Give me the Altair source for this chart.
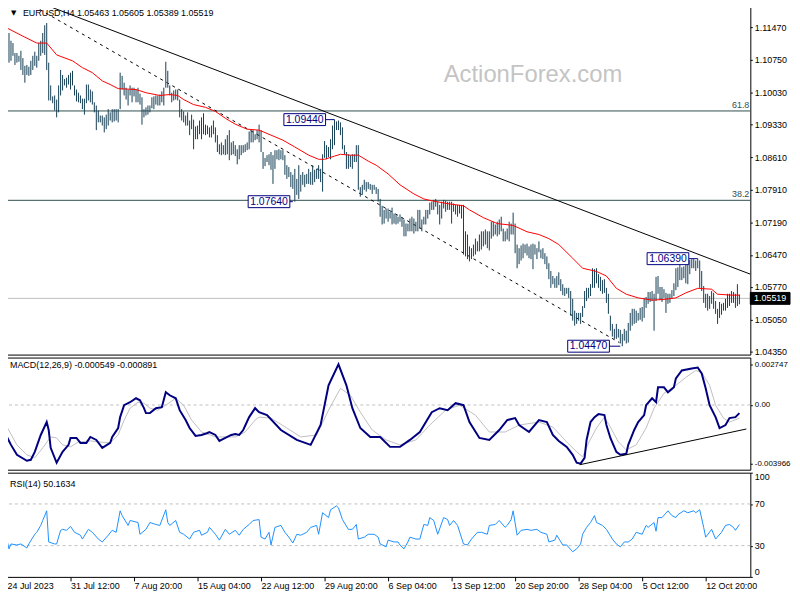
import altair as alt
import pandas as pd

# ---------------- data ----------------
highs = [
    1.1145, 1.1134, 1.1117, 1.1112, 1.1090, 1.1090, 1.1084, 1.1095, 1.1079, 1.1062,
    1.1064, 1.1060, 1.1073, 1.1084, 1.1093, 1.1084, 1.1112, 1.1117, 1.1134, 1.1151,
    1.1156, 1.1069, 1.1019, 1.0995, 1.0997, 1.0988, 1.1019, 1.1053, 1.1042, 1.1033,
    1.1036, 1.1042, 1.1047, 1.1051, 1.1019, 1.1010, 1.1003, 1.0997, 1.0990, 1.0990,
    1.1021, 1.1021, 1.1010, 1.1006, 1.0982, 1.0975, 1.0964, 1.0953, 1.0953, 1.0949,
    1.0955, 1.0967, 1.0960, 1.0967, 1.0967, 1.0967, 1.0967, 1.1047, 1.1040, 1.1025,
    1.1014, 1.1010, 1.1019, 1.1014, 1.1014, 1.1010, 1.1014, 1.1001, 1.0993, 1.0967,
    1.0971, 1.0975, 1.0975, 1.0993, 1.0995, 1.0997, 1.0997, 1.0999, 1.1006, 1.1014,
    1.1071, 1.1051, 1.1019, 1.1003, 1.1008, 1.1010, 1.1010, 1.0988, 1.0967, 1.0962,
    1.0953, 1.0960, 1.0942, 1.0955, 1.0944, 1.0929, 1.0931, 1.0942, 1.0949, 1.0958,
    1.0933, 1.0931, 1.0927, 1.0931, 1.0942, 1.0927, 1.0910, 1.0890, 1.0894, 1.0888,
    1.0901, 1.0910, 1.0921, 1.0894, 1.0897, 1.0888, 1.0879, 1.0888, 1.0888, 1.0888,
    1.0890, 1.0894, 1.0918, 1.0921,
    1.0921, 1.0912, 1.0921, 1.0933, 1.0921, 1.0873, 1.0860, 1.0866, 1.0868, 1.0873,
    1.0866, 1.0877, 1.0877, 1.0879, 1.0877, 1.0877, 1.0866, 1.0844, 1.0840, 1.0829,
    1.0823, 1.0836, 1.0814, 1.0844, 1.0823, 1.0829, 1.0823, 1.0825, 1.0836, 1.0829,
    1.0844, 1.0834, 1.0836, 1.0844, 1.0836, 1.0868, 1.0897, 1.0888, 1.0884, 1.0901,
    1.0931, 1.0944, 1.0940, 1.0942, 1.0938, 1.0927, 1.0888, 1.0873, 1.0868, 1.0866,
    1.0868, 1.0868, 1.0888, 1.0888, 1.0796, 1.0801, 1.0812, 1.0807, 1.0807, 1.0803,
    1.0801, 1.0801, 1.0796, 1.0792, 1.0770, 1.0755, 1.0746, 1.0749, 1.0749, 1.0742,
    1.0751, 1.0738, 1.0736, 1.0731, 1.0736, 1.0729, 1.0725, 1.0716, 1.0716, 1.0727,
    1.0731, 1.0727, 1.0720, 1.0746, 1.0746, 1.0725, 1.0731, 1.0746, 1.0746, 1.0762,
    1.0764, 1.0768, 1.0770, 1.0764, 1.0757, 1.0764, 1.0768, 1.0766, 1.0764, 1.0764,
    1.0764, 1.0760, 1.0757, 1.0757, 1.0757, 1.0757, 1.0757, 1.0699, 1.0692, 1.0666,
    1.0662, 1.0670, 1.0683, 1.0677, 1.0692, 1.0699, 1.0699, 1.0703, 1.0699, 1.0699,
    1.0720, 1.0720, 1.0714, 1.0720, 1.0725, 1.0731,
    1.0705, 1.0699, 1.0705, 1.0720, 1.0716, 1.0740, 1.0716, 1.0670, 1.0662, 1.0668,
    1.0672, 1.0670, 1.0672, 1.0666, 1.0670, 1.0672, 1.0670, 1.0662, 1.0677, 1.0659,
    1.0662, 1.0651, 1.0644, 1.0629, 1.0612, 1.0601, 1.0596, 1.0601, 1.0609, 1.0594,
    1.0583, 1.0575, 1.0575, 1.0575, 1.0568, 1.0551, 1.0525, 1.0520, 1.0520, 1.0520,
    1.0535, 1.0568, 1.0575, 1.0575, 1.0583, 1.0618, 1.0616, 1.0618, 1.0605, 1.0599,
    1.0592, 1.0594, 1.0575, 1.0562, 1.0514, 1.0496, 1.0485, 1.0496, 1.0485, 1.0483,
    1.0474, 1.0485, 1.0481, 1.0498, 1.0520, 1.0529, 1.0529, 1.0525, 1.0520, 1.0531,
    1.0533, 1.0553, 1.0555, 1.0566, 1.0566, 1.0568, 1.0562, 1.0599, 1.0601, 1.0577,
    1.0577, 1.0572, 1.0564, 1.0562, 1.0562, 1.0570, 1.0585, 1.0618, 1.0620, 1.0625,
    1.0620, 1.0622, 1.0627, 1.0633, 1.0636, 1.0638, 1.0638, 1.0635, 1.0639, 1.0635,
    1.0612, 1.0579, 1.0562, 1.0562, 1.0557, 1.0568, 1.0564, 1.0546, 1.0529, 1.0544,
    1.0540, 1.0542, 1.0551, 1.0562, 1.0562, 1.0568, 1.0566, 1.0562, 1.0583, 1.05605,
]
lows = [
    1.1119, 1.1069, 1.1073, 1.1084, 1.1064, 1.1069, 1.1071, 1.1053, 1.1042, 1.1025,
    1.1042, 1.1040, 1.1042, 1.1053, 1.1062, 1.1058, 1.1073, 1.1084, 1.1090, 1.1086,
    1.1053, 1.0986, 1.0986, 1.0980, 1.0964, 1.0949, 1.0960, 1.0997, 1.1008, 1.1019,
    1.1014, 1.1021, 1.1010, 1.1019, 1.0997, 1.0984, 1.0982, 1.0980, 1.0967, 1.0955,
    1.0980, 1.0986, 1.0982, 1.0977, 1.0960, 1.0921, 1.0938, 1.0938, 1.0931, 1.0916,
    1.0923, 1.0931, 1.0942, 1.0938, 1.0940, 1.0942, 1.0938, 1.0967, 1.1010, 1.0997,
    1.0988, 1.0975, 1.0997, 1.0982, 1.0995, 1.0982, 1.0982, 1.0977, 1.0933, 1.0949,
    1.0953, 1.0955, 1.0960, 1.0969, 1.0967, 1.0977, 1.0975, 1.0975, 1.0982, 1.0975,
    1.1014, 1.1014, 1.0997, 1.0982, 1.0986, 1.0988, 1.0986, 1.0949, 1.0942, 1.0938,
    1.0931, 1.0931, 1.0910, 1.0923, 1.0879, 1.0901, 1.0901, 1.0912, 1.0901, 1.0912,
    1.0910, 1.0912, 1.0905, 1.0905, 1.0912, 1.0894, 1.0873, 1.0868, 1.0866, 1.0868,
    1.0866, 1.0868, 1.0855, 1.0866, 1.0868, 1.0864, 1.0846, 1.0857, 1.0866, 1.0871,
    1.0873, 1.0877, 1.0879, 1.0894,
    1.0894, 1.0899, 1.0901, 1.0894, 1.0873, 1.0836, 1.0842, 1.0851, 1.0844, 1.0834,
    1.0803, 1.0836, 1.0857, 1.0855, 1.0857, 1.0855, 1.0823, 1.0814, 1.0818, 1.0796,
    1.0792, 1.0764, 1.0779, 1.0770, 1.0786, 1.0801, 1.0796, 1.0803, 1.0803, 1.0801,
    1.0801, 1.0807, 1.0814, 1.0814, 1.0807, 1.0786, 1.0860, 1.0857, 1.0862, 1.0857,
    1.0879, 1.0888, 1.0921, 1.0921, 1.0910, 1.0879, 1.0868, 1.0836, 1.0836, 1.0840,
    1.0836, 1.0851, 1.0851, 1.0790, 1.0775, 1.0779, 1.0790, 1.0786, 1.0792, 1.0790,
    1.0781, 1.0790, 1.0781, 1.0764, 1.0731, 1.0714, 1.0716, 1.0727, 1.0720, 1.0727,
    1.0714, 1.0716, 1.0714, 1.0716, 1.0720, 1.0709, 1.0688, 1.0688, 1.0699, 1.0699,
    1.0699, 1.0694, 1.0699, 1.0699, 1.0705, 1.0699, 1.0714, 1.0714, 1.0727, 1.0736,
    1.0746, 1.0746, 1.0753, 1.0736, 1.0714, 1.0727, 1.0749, 1.0742, 1.0746, 1.0746,
    1.0716, 1.0742, 1.0736, 1.0731, 1.0738, 1.0727, 1.0648, 1.0644, 1.0638, 1.0633,
    1.0638, 1.0644, 1.0648, 1.0655, 1.0655, 1.0659, 1.0666, 1.0670, 1.0662, 1.0657,
    1.0683, 1.0688, 1.0692, 1.0688, 1.0692, 1.0699,
    1.0677, 1.0677, 1.0681, 1.0677, 1.0692, 1.0692, 1.0651, 1.0618, 1.0627, 1.0635,
    1.0640, 1.0651, 1.0646, 1.0640, 1.0638, 1.0616, 1.0648, 1.0638, 1.0653, 1.0640,
    1.0638, 1.0627, 1.0616, 1.0594, 1.0575, 1.0583, 1.0575, 1.0575, 1.0581, 1.0568,
    1.0559, 1.0557, 1.0562, 1.0553, 1.0514, 1.0503, 1.0492, 1.0496, 1.0503, 1.0496,
    1.0511, 1.0531, 1.0546, 1.0553, 1.0557, 1.0575, 1.0575, 1.0585, 1.0575, 1.0568,
    1.0562, 1.0564, 1.0542, 1.0518, 1.0481, 1.0468, 1.0463, 1.0463, 1.0466, 1.0453,
    1.0447, 1.0459, 1.0453, 1.0455, 1.0481, 1.0492, 1.0496, 1.0498, 1.0503, 1.0505,
    1.0501, 1.0509, 1.0531, 1.0540, 1.0544, 1.0546, 1.0481, 1.0546, 1.0562, 1.0548,
    1.0544, 1.0553, 1.0520, 1.0540, 1.0542, 1.0551, 1.0557, 1.0570, 1.0577, 1.0592,
    1.0592, 1.0596, 1.0585, 1.0583, 1.0605, 1.0618, 1.0618, 1.0612, 1.0618, 1.0575,
    1.0568, 1.0542, 1.0531, 1.0525, 1.0529, 1.0540, 1.0529, 1.0518, 1.0496, 1.0509,
    1.0516, 1.0525, 1.0525, 1.0531, 1.0535, 1.0542, 1.0542, 1.0531, 1.0535, 1.05389,
]

ma_idx = [0, 8, 15, 20, 25, 33, 38, 43, 48, 52, 56, 65, 70, 77, 82, 86, 89, 94, 100, 105,
          110, 115, 121, 127, 133, 139, 145, 152, 157, 160, 165, 168, 173, 177, 182, 186, 192, 198, 205, 210,
          214, 223, 230, 233, 240, 247, 255, 262, 268, 273, 278, 285, 290, 297, 302, 307, 312, 318, 325, 332,
          337, 342, 348, 355, 358, 365, 369]
ma_val = [1.1145, 1.1127, 1.1112, 1.1112, 1.1086, 1.1073, 1.1058, 1.1047, 1.1029, 1.1021,
          1.1012, 1.1010, 1.1003, 1.0997, 1.0999, 1.0997, 1.0988, 1.0977, 1.0971, 1.0962,
          1.0947, 1.0934, 1.0923, 1.0921, 1.0910, 1.0899, 1.0884, 1.0866, 1.0857, 1.0857,
          1.0864, 1.0868, 1.0866, 1.0866, 1.0853, 1.0844, 1.0825, 1.0801, 1.0781, 1.0770,
          1.0766, 1.0759, 1.0755, 1.0746, 1.0729, 1.0716, 1.0712, 1.0698, 1.0692, 1.0683,
          1.0670, 1.0640, 1.0618, 1.0611, 1.0601, 1.0574, 1.0561, 1.0553, 1.0548, 1.0550,
          1.0553, 1.0564, 1.0574, 1.0572, 1.0561, 1.0559, 1.0559]

macd_idx = [0, 2, 5, 10, 12, 14, 17, 20, 21, 22, 25, 28, 31, 32, 35, 37, 40, 42, 45, 48,
            52, 53, 56, 57, 59, 62, 65, 67, 69, 70, 72, 75, 78, 80, 82, 85, 87, 90, 92, 95,
            98, 101, 102, 105, 107, 110, 113, 115, 117, 119, 122, 125, 127, 131, 138, 146, 153, 158, 162, 167,
            171, 174, 178, 183, 188, 193, 198, 203, 208, 214, 218, 222, 226, 230, 233, 238, 243, 248, 252, 256,
            258, 263, 268, 272, 275, 278, 282, 285, 287, 289, 291, 292, 294, 296, 298, 301, 302, 304, 307, 309,
            312, 313, 316, 318, 321, 322, 325, 327, 328, 331, 333, 336, 337, 340, 345, 348, 350, 352, 354, 357,
            359, 362, 364, 367, 369]
macd_val = [-0.002161, -0.002698, -0.003369, -0.003772, -0.003705, -0.003168, -0.002027, -0.001154, -0.001691, -0.002899,
            -0.003906, -0.003168, -0.002698, -0.002228, -0.002228, -0.002564, -0.002564, -0.002161, -0.002362, -0.002899,
            -0.002564, -0.002161, -0.001557, -0.000819, -0.000013, 0.000188, 0.000456, 0.000322, -0.000215, -0.00055,
            -0.00055, -0.000215, -0.000148, 0.000859, 0.000658, 0.000456, -0.000349, -0.00102, -0.001557, -0.002094,
            -0.002027, -0.001893, -0.001826, -0.002027, -0.00243, -0.002228, -0.002027, -0.00196, -0.002027, -0.001691,
            -0.000819, -0.000215, -0.000483, -0.000685, -0.001691, -0.002362, -0.002698, -0.001356, 0.001329, 0.002747,
            0.001329, -0.000215, -0.001557, -0.002161, -0.002161, -0.002832, -0.002832, -0.002362, -0.001826, -0.000483,
            -0.000215, -0.000349, 0.000121, -0.000013, -0.001154, -0.002228, -0.002362, -0.001691, -0.00102, -0.000886,
            -0.001356, -0.001826, -0.00102, -0.001154, -0.002027, -0.00243, -0.002832, -0.003369, -0.003906, -0.003966,
            -0.00357, -0.002362, -0.001154, -0.000819, -0.000617, -0.000685, -0.001356, -0.002228, -0.003168, -0.003369,
            -0.003302, -0.002698, -0.001691, -0.001154, -0.000685, -0.000013, 0.000456, 0.000188, 0.001195, 0.001195,
            0.000859, 0.001195, 0.001799, 0.002336, 0.00247, 0.002537, 0.002134, 0.001128, -0.000013, -0.000819,
            -0.001557, -0.001356, -0.000886, -0.000819, -0.000549]

sig_idx = [0, 5, 10, 14, 18, 22, 25, 28, 32, 36, 42, 46, 52, 56, 59, 62, 66, 69, 72, 76,
           80, 85, 89, 93, 98, 105, 110, 115, 120, 125, 127, 133, 141, 148, 156, 162, 168, 173, 178, 184,
           191, 198, 206, 213, 221, 228, 236, 243, 251, 258, 268, 275, 282, 287, 290, 293, 297, 301, 304, 308,
           312, 317, 322, 326, 331, 337, 342, 347, 350, 354, 357, 361, 364, 369]
sig_val = [-0.00149, -0.002698, -0.003369, -0.00357, -0.002899, -0.002161, -0.002228, -0.002698, -0.002832, -0.002497,
           -0.00243, -0.002497, -0.002564, -0.002027, -0.00102, -0.000215, 0.000188, 0.000121, -0.000215, -0.000349,
           -0.000013, 0.000456, -0.000013, -0.00102, -0.001826, -0.002161, -0.002161, -0.002161, -0.001826, -0.00102,
           -0.000819, -0.000886, -0.001557, -0.002161, -0.002027, -0.000349, 0.001128, 0.000658, -0.000483, -0.001691,
           -0.002362, -0.002698, -0.002362, -0.001356, -0.000349, -0.000013, -0.000685, -0.001826, -0.001826, -0.001356,
           -0.001154, -0.00149, -0.002497, -0.003168, -0.003503, -0.002564, -0.001557, -0.000819, -0.00149, -0.002497,
           -0.003034, -0.002698, -0.001557, -0.000215, 0.000792, 0.001329, 0.001866, 0.002336, 0.002201, 0.001329,
           -0.000013, -0.000886, -0.001154, -0.000891]

rsi_idx = [0, 1, 2, 5, 7, 10, 11, 14, 15, 17, 18, 20, 21, 24, 25, 27, 28, 30, 32, 34,
           37, 38, 41, 43, 46, 48, 51, 53, 55, 57, 58, 61, 62, 66, 67, 70, 72, 75, 77, 80,
           81, 82, 85, 87, 89, 92, 94, 97, 98, 101, 102, 105, 107, 110, 112, 115, 117, 119, 122, 124,
           127, 128, 130, 132, 133, 135, 138, 140, 142, 144, 146, 148, 151, 153, 156, 157, 159, 162, 163, 166,
           167, 169, 172, 174, 176, 177, 180, 182, 185, 187, 188, 191, 192, 195, 197, 198, 200, 202, 203, 206,
           208, 210, 212, 213, 215, 217, 220, 222, 223, 225, 227, 230, 232, 234, 237, 239, 242, 243, 246, 248,
           251, 252, 254, 255, 257, 259, 262, 264, 267, 269, 272, 273, 276, 277, 280, 282, 285, 287, 289, 290,
           292, 294, 296, 297, 300, 302, 305, 307, 309, 311, 313, 315, 317, 320, 322, 323, 326, 327, 328, 330,
           333, 335, 337, 338, 341, 343, 346, 347, 349, 351, 352, 355, 357, 360, 362, 364, 366, 367, 369]
rsi_val = [35.3, 26.9, 31.6, 30.6, 31.6, 27.8, 31.6, 40.9, 42.8, 49.4, 54.1, 63.4, 33.5, 31.6, 31.6, 44.7, 45.6, 44.7, 48.5, 42.8,
           40.0, 36.3, 45.6, 42.8, 36.3, 33.5, 40.0, 44.7, 42.8, 63.4, 58.8, 49.4, 54.1, 52.2, 40.9, 45.6, 52.2, 50.3, 49.4, 64.4,
           52.2, 49.4, 54.1, 42.8, 40.9, 36.3, 42.8, 44.7, 40.0, 42.8, 47.5, 40.9, 35.3, 45.6, 40.9, 44.7, 40.0, 45.6, 50.3, 54.1,
           55.0, 38.1, 36.3, 42.8, 30.6, 47.5, 49.4, 42.8, 38.1, 32.5, 40.9, 40.0, 42.8, 47.5, 49.4, 40.9, 61.6, 56.9, 64.4, 68.1,
           66.3, 55.0, 45.6, 45.6, 50.3, 36.3, 38.1, 40.9, 40.9, 38.1, 31.6, 28.8, 35.3, 33.5, 33.5, 30.6, 26.9, 33.5, 38.1, 36.3,
           36.3, 50.3, 49.4, 56.9, 54.1, 40.9, 56.9, 55.0, 49.4, 54.1, 49.4, 31.6, 30.6, 36.3, 42.8, 42.8, 40.9, 49.4, 50.3, 54.1,
           47.5, 49.4, 55.0, 63.4, 40.0, 44.7, 45.6, 44.7, 45.6, 42.8, 40.9, 33.5, 35.3, 40.0, 30.6, 30.6, 24.1, 26.9, 31.6, 40.9,
           47.5, 52.2, 58.8, 52.2, 49.4, 45.6, 36.3, 31.6, 28.8, 33.5, 33.5, 36.3, 42.8, 40.9, 49.4, 47.5, 52.2, 43.8, 56.9, 56.9,
           63.4, 58.8, 56.9, 59.7, 63.4, 61.6, 63.4, 61.6, 64.4, 47.5, 38.1, 45.6, 36.3, 42.8, 49.4, 50.3, 47.5, 44.7, 50.2]

price_ticks = [1.1147, 1.1075, 1.1003, 1.0933, 1.0861, 1.0791, 1.0719, 1.0647, 1.0577, 1.0505, 1.0435]
macd_ticks = [0.002747, 0.0, -0.003966]
macd_tick_labels = ["0.002747", "0.00", "-0.003966"]
rsi_ticks = [100, 70, 30, 0]
rsi_levels = [70, 30]
time_idx = [0, 32, 64, 96, 128, 160, 192, 224, 256, 288, 320, 352]
time_labels = ["24 Jul 2023", "31 Jul 12:00", "7 Aug 20:00", "15 Aug 04:00", "22 Aug 12:00",
               "29 Aug 20:00", "6 Sep 04:00", "13 Sep 12:00", "20 Sep 20:00", "28 Sep 04:00",
               "5 Oct 12:00", "12 Oct 20:00"]

fib_levels = [1.0963, 1.0767]
fib_labels = ["61.8", "38.2"]
last_price = 1.05519
last_label = "1.05519"

# trendlines: start index, start price, end index, end price
solid_line = [21, 1.1193, 374.5, 1.0605]
dashed_line = [13.5, 1.1193, 308.5, 1.0455]
macd_support = [288.5, -0.00404, 372.5, -0.001624]

ann_values = [1.0944, 1.0764, 1.0447, 1.0639]
ann_labels = ["1.09440", "1.07640", "1.04470", "1.06390"]
ann_bar = [165, 144, 309, 348]
ann_box = [150, 132, 293, 333]

title_main = "EURUSD,H4  1.05463 1.05605 1.05389 1.05519"
title_macd = "MACD(12,26,9) -0.000549 -0.000891"
title_rsi = "RSI(14) 50.1634"
watermark = "ActionForex.com"

# ---------------- styling ----------------
W = 750
H_MAIN, H_MACD, H_RSI = 351, 113, 105
X_DOMAIN = [-0.5, 374.5]
P_DOMAIN = [1.04286, 1.11927]
M_DOMAIN = [-0.004376, 0.003208]
BAR = "#163F55"
LVL = "#2F4F4F"
NAVY = "#000080"
SILVER = "#C0C0C0"
FONT = "Liberation Sans"
FS = 9
BOX_SHAPE = "M-1,-0.286H1V0.286H-1Z"
BOX_W = 42

xs = alt.Scale(domain=X_DOMAIN, nice=False, zero=False)
ps = alt.Scale(domain=P_DOMAIN, nice=False, zero=False)
ms = alt.Scale(domain=M_DOMAIN, nice=False, zero=False)
rs = alt.Scale(domain=[0, 100], nice=False, zero=False)


def chain(vals, labels):
    expr = "''"
    for v, l in reversed(list(zip(vals, labels))):
        expr = f"(datum.value == {v}) ? '{l}' : ({expr})"
    return expr


def yaxis(values, size=FS, **kw):
    return alt.Axis(orient="right", values=values, labelFont=FONT, labelFontSize=size,
                    labelColor="black", tickColor="black", tickSize=2, domain=False,
                    grid=False, title=None, labelPadding=2, labelOverlap=False, **kw)


def text_at(txt, x, y, **kw):
    style = dict(align="left", baseline="middle", font=FONT, fontSize=FS, color="black")
    style.update(kw)
    return alt.Chart(pd.DataFrame({"t": [txt]})).mark_text(**style).encode(
        x=alt.value(x), y=alt.value(y), text="t:N")


PAX = yaxis(price_ticks, format=".5f", labelFlush=False)
MAX = yaxis(macd_ticks, size=8, labelExpr=chain(macd_ticks, macd_tick_labels), labelFlush=False)
RAX = yaxis(rsi_ticks, format="d", labelFlush=True)


def PY(field):
    return alt.Y(field, scale=ps, axis=PAX)


def MY(field):
    return alt.Y(field, scale=ms, axis=MAX)


def RY(field):
    return alt.Y(field, scale=rs, axis=RAX)


def NX(field):
    return alt.X(field, scale=xs, axis=None)


# ---------------- main panel ----------------
bars_df = pd.DataFrame({"i": list(range(len(highs))), "high": highs, "low": lows})
ma_df = pd.DataFrame({"i": ma_idx, "v": ma_val})
fib_df = pd.DataFrame({"level": fib_levels, "label": fib_labels})
tl_df = pd.DataFrame([solid_line + ["solid"], dashed_line + ["dash"]],
                     columns=["x1", "y1", "x2", "y2", "kind"])
ann_df = pd.DataFrame({"value": ann_values, "label": ann_labels, "bar": ann_bar, "box": ann_box})
last_df = pd.DataFrame({"value": [last_price], "label": [last_label]})

wm = alt.Chart(pd.DataFrame({"t": [watermark]})).mark_text(
    font="Liberation Sans", fontSize=24, color="#C4C4C4", align="center", baseline="middle"
).encode(x=alt.value(531), y=alt.value(69), text="t:N")

fib_rules = alt.Chart(fib_df).mark_rule(color=LVL, strokeWidth=1).encode(y=PY("level:Q"))
fib_text = alt.Chart(fib_df).mark_text(
    align="right", baseline="bottom", dy=-1, font=FONT, fontSize=FS, color=LVL
).encode(x=alt.value(W - 1), y=PY("level:Q"), text="label:N")
last_rule = alt.Chart(last_df).mark_rule(color=SILVER, strokeWidth=1).encode(y=PY("value:Q"))

solid = alt.Chart(tl_df).transform_filter("datum.kind == 'solid'").mark_rule(
    color="black", strokeWidth=1, clip=True
).encode(x=NX("x1:Q"), y=PY("y1:Q"), x2="x2:Q", y2="y2:Q")
dashed = alt.Chart(tl_df).transform_filter("datum.kind == 'dash'").mark_rule(
    color="black", strokeWidth=1, strokeDash=[3, 4], clip=True
).encode(x=NX("x1:Q"), y=PY("y1:Q"), x2="x2:Q", y2="y2:Q")

bars = alt.Chart(bars_df).mark_rule(color=BAR, strokeWidth=1).encode(
    x=NX("i:Q"), y=PY("low:Q"), y2="high:Q")

ma = alt.Chart(ma_df).mark_line(color="#FF0000", strokeWidth=1, clip=True).encode(
    x=NX("i:Q"), y=PY("v:Q"))

conn = alt.Chart(ann_df).transform_calculate(edge=f"datum.box + {BOX_W / 4}").mark_rule(
    color=NAVY, strokeWidth=1
).encode(x=NX("edge:Q"), x2="bar:Q", y=PY("value:Q"))
boxes = alt.Chart(ann_df).mark_point(
    shape=BOX_SHAPE, size=BOX_W ** 2, filled=True, fill="white", stroke=NAVY,
    strokeWidth=1, opacity=1
).encode(x=NX("box:Q"), y=PY("value:Q"))
box_text = alt.Chart(ann_df).mark_text(
    font="Liberation Sans", fontSize=10.5, color=NAVY, align="center", baseline="middle"
).encode(x=NX("box:Q"), y=PY("value:Q"), text="label:N")

last_box = alt.Chart(last_df).mark_point(
    shape="M-1,-0.3H1V0.3H-1Z", size=40 ** 2, filled=True, fill="black",
    stroke="black", strokeWidth=1, opacity=1
).encode(x=alt.value(W + 20), y=PY("value:Q"))
last_text = alt.Chart(last_df).mark_text(
    font=FONT, fontSize=FS, color="white", align="center", baseline="middle"
).encode(x=alt.value(W + 20), y=PY("value:Q"), text="label:N")

main = alt.layer(
    wm, fib_rules, fib_text, last_rule, solid, dashed, bars, ma, conn, boxes, box_text,
    last_box, last_text,
    text_at("\u25BC", 5, 7, fontSize=7, font="DejaVu Sans"),
    text_at(title_main, 17, 7),
).properties(width=W, height=H_MAIN)

# ---------------- MACD panel ----------------
macd_df = pd.DataFrame({"i": macd_idx, "v": macd_val})
sig_df = pd.DataFrame({"i": sig_idx, "v": sig_val})
zero_df = pd.DataFrame({"z": [0.0]})
sup_df = pd.DataFrame([macd_support], columns=["x1", "y1", "x2", "y2"])

zero = alt.Chart(zero_df).mark_rule(color=SILVER, strokeWidth=1, strokeDash=[3, 3]).encode(
    y=MY("z:Q"))
sig_line = alt.Chart(sig_df).mark_line(color=SILVER, strokeWidth=1).encode(
    x=NX("i:Q"), y=MY("v:Q"))
macd_line = alt.Chart(macd_df).mark_line(color=NAVY, strokeWidth=2).encode(
    x=NX("i:Q"), y=MY("v:Q"))
sup = alt.Chart(sup_df).mark_rule(color="black", strokeWidth=1).encode(
    x=NX("x1:Q"), y=MY("y1:Q"), x2="x2:Q", y2="y2:Q")

macd = alt.layer(zero, sig_line, macd_line, sup, text_at(title_macd, 4, 8)).properties(
    width=W, height=H_MACD)

# ---------------- RSI panel ----------------
rsi_df = pd.DataFrame({"i": rsi_idx, "v": rsi_val})
lvl_df = pd.DataFrame({"l": rsi_levels})

rsi_lvls = alt.Chart(lvl_df).mark_rule(color=SILVER, strokeWidth=1, strokeDash=[3, 3]).encode(
    y=RY("l:Q"))
time_axis = alt.Axis(orient="bottom", values=time_idx, labelExpr=chain(time_idx, time_labels),
                     labelFont=FONT, labelFontSize=FS, labelColor="black", tickColor="black",
                     tickSize=4, domain=False, grid=False, title=None, labelAlign="left",
                     labelPadding=1, labelFlush=False, labelOverlap=False)
rsi_line = alt.Chart(rsi_df).mark_line(color="#1E90FF", strokeWidth=1).encode(
    x=alt.X("i:Q", scale=xs, axis=time_axis), y=RY("v:Q"))

rsi = alt.layer(rsi_lvls, rsi_line, text_at(title_rsi, 4, 11)).properties(
    width=W, height=H_RSI)

chart = alt.vconcat(main, macd, rsi, spacing=3, bounds="flush").properties(
    padding={"left": -6, "top": -5, "right": -1, "bottom": -1}
).configure(background="white").configure_view(stroke="black", strokeWidth=1)

chart.save("out.html", embed_options={"renderer": "svg", "actions": False})
